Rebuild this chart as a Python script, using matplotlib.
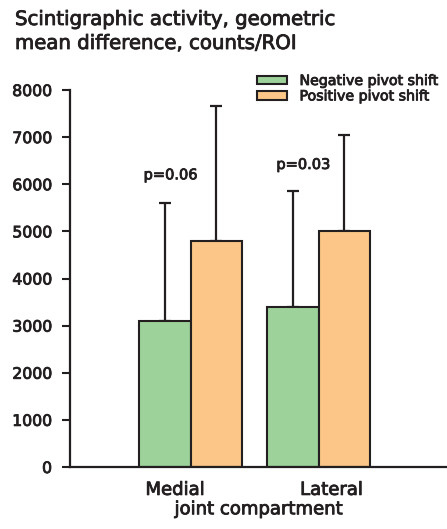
import matplotlib
matplotlib.use("Agg")
import matplotlib.pyplot as plt
import matplotlib.patheffects as pe
import numpy as np

plt.rcParams['font.family'] = ['DejaVu Sans']

categories = ["Medial", "Lateral"]
series = ["Negative pivot shift", "Positive pivot shift"]
neg_means = [3100, 3400]
neg_err = [2500, 2450]
pos_means = [4800, 5000]
pos_err = [2870, 2040]
p_labels = ["p=0.06", "p=0.03"]
yticks = [0, 1000, 2000, 3000, 4000, 5000, 6000, 7000, 8000]

colors = ["#9dd29b", "#fbc687"]
edge = "#231f20"
heavy = [pe.withStroke(linewidth=0.6, foreground=edge)]

W, H = 447, 529
fig = plt.figure(figsize=(W/100, H/100), dpi=100)
ax = fig.add_axes([70/W, 1-467/H, 1-70/W, (467-90)/H])

x = np.array([1.0, 2.0])
w = 0.4
ekw = dict(elinewidth=1.6, capsize=4.2, capthick=1.6, ecolor=edge)
ax.bar(x - w/2, neg_means, w, color=colors[0], edgecolor=edge, linewidth=1.5,
       label=series[0], zorder=2)
ax.errorbar(x - w/2, neg_means, yerr=[np.zeros(2), neg_err], fmt='none', zorder=1, **ekw)
ax.bar(x + w/2, pos_means, w, color=colors[1], edgecolor=edge, linewidth=1.5,
       label=series[1], zorder=2)
ax.errorbar(x + w/2, pos_means, yerr=[np.zeros(2), pos_err], fmt='none', zorder=1, **ekw)

ax.text(0.845, 6200, p_labels[0], ha='center', va='center', fontsize=10.5, color=edge,
        path_effects=heavy)
ax.text(1.88, 6420, p_labels[1], ha='center', va='center', fontsize=10.5, color=edge,
        path_effects=heavy)

ax.set_xlim(0.06, 3.0)
ax.set_ylim(0, 8000)
ax.set_yticks(yticks)
ax.set_yticklabels([str(t) for t in yticks], fontsize=11.3, color=edge)
ax.set_xticks([0.88, 2.10])
ax.set_xticklabels(categories, fontsize=13, color=edge)
ax.tick_params(axis='x', length=0, pad=10)
ax.tick_params(axis='y', length=6, width=1.5, color=edge, pad=7)
for s in ['top', 'right']:
    ax.spines[s].set_visible(False)
for s in ['left', 'bottom']:
    ax.spines[s].set_linewidth(1.6)
    ax.spines[s].set_color(edge)
ax.set_xlabel("joint compartment", fontsize=13, color=edge, labelpad=1)
for t in ax.get_xticklabels() + ax.get_yticklabels() + [ax.xaxis.label]:
    t.set_path_effects(heavy)

leg = ax.legend(loc='upper left', bbox_to_anchor=(257/W, 1-74/H),
                bbox_transform=fig.transFigure, frameon=False,
                fontsize=10.2, handlelength=2.1, handleheight=0.55, labelspacing=0.1,
                handletextpad=0.9, borderpad=0, borderaxespad=0)
for t in leg.get_texts():
    t.set_color(edge)
    t.set_path_effects(heavy)

for txt, yb in [("Scintigraphic activity, geometric", 25), ("mean difference, counts/ROI", 49)]:
    fig.text(15/W, 1-yb/H, txt, ha='left', va='baseline', fontsize=14.2, color=edge,
             path_effects=heavy)

fig.savefig("out.png", dpi=100)
